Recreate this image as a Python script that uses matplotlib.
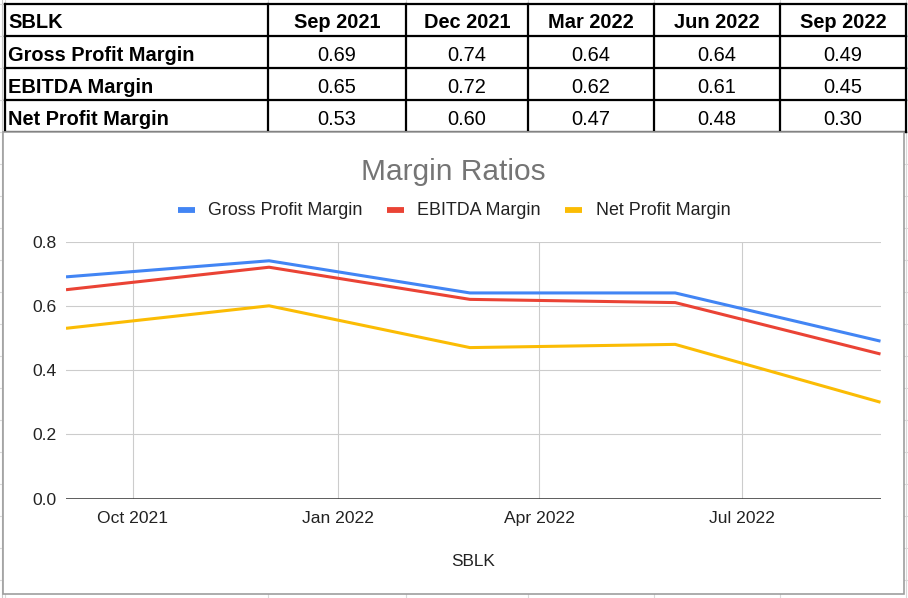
import matplotlib
matplotlib.use("Agg")
import matplotlib.pyplot as plt
import matplotlib.dates as mdates
from matplotlib.patches import Rectangle
import datetime as dt

# ---------------- data ----------------
ticker = "SBLK"
periods = ["Sep 2021", "Dec 2021", "Mar 2022", "Jun 2022", "Sep 2022"]
dates = [dt.date(2021, 9, 1), dt.date(2021, 12, 1), dt.date(2022, 3, 1),
         dt.date(2022, 6, 1), dt.date(2022, 9, 1)]
series_names = ["Gross Profit Margin", "EBITDA Margin", "Net Profit Margin"]
gross = [0.69, 0.74, 0.64, 0.64, 0.49]
ebitda = [0.65, 0.72, 0.62, 0.61, 0.45]
net = [0.53, 0.60, 0.47, 0.48, 0.30]
yticks = [0.0, 0.2, 0.4, 0.6, 0.8]
title = "Margin Ratios"

series_values = [gross, ebitda, net]
colors = ["#4285F4", "#EA4335", "#FBBC04"]

plt.rcParams['font.family'] = ['Liberation Sans', 'DejaVu Sans']

W, H = 908, 598
fig = plt.figure(figsize=(W / 100, H / 100), dpi=100)
bg = fig.add_axes([0, 0, 1, 1])
bg.set_xlim(0, W)
bg.set_ylim(H, 0)
bg.axis("off")

# spreadsheet faint grid
col_edges = [5, 268, 406, 528, 654, 780, 906]
grid_c = "#d9d9d9"
bg.plot([2, 2], [0, H], color="#c8c8c8", lw=0.8, zorder=0)
for x in col_edges:
    bg.plot([x, x], [0, H], color=grid_c, lw=0.8, zorder=0)
for y in range(4, H, 32):
    bg.plot([0, W], [y, y], color=grid_c, lw=0.8, zorder=0)

# ---------------- table ----------------
row_edges = [4, 36, 68, 100, 132]
for y in row_edges:
    bg.plot([col_edges[0], col_edges[-1]], [y, y], color="black", lw=1.6, zorder=2)
for x in col_edges:
    bg.plot([x, x], [row_edges[0], row_edges[-1]], color="black", lw=1.6, zorder=2)

baselines = [28.5, 61, 93, 125]
tfs = 14.4
bg.text(8, baselines[0], ticker, fontsize=tfs, fontweight="bold", va="baseline", ha="left", zorder=3)
for j, p in enumerate(periods):
    cx = (col_edges[j + 1] + col_edges[j + 2]) / 2
    bg.text(cx, baselines[0], p, fontsize=tfs, fontweight="bold", va="baseline", ha="center", zorder=3)
for i, (name, vals) in enumerate(zip(series_names, series_values)):
    bl = baselines[i + 1]
    bg.text(8, bl, name, fontsize=tfs, fontweight="bold", va="baseline", ha="left", zorder=3)
    for j, v in enumerate(vals):
        cx = (col_edges[j + 1] + col_edges[j + 2]) / 2
        bg.text(cx, bl, f"{v:.2f}", fontsize=tfs, va="baseline", ha="center", zorder=3)

# ---------------- chart box ----------------
bg.add_patch(Rectangle((3, 132), 901, 462, facecolor="white", edgecolor="#9e9e9e", lw=1.2, zorder=4))

box_cx = 453.5
bg.text(box_cx, 180, title, fontsize=21.5, color="#757575", ha="center", va="baseline", zorder=5)

# legend
leg_marker_x = [178, 387, 565]
leg_text_x = [208, 417, 596]
for mx, tx, name, c in zip(leg_marker_x, leg_text_x, series_names, colors):
    bg.plot([mx, mx + 17], [209.5, 209.5], color=c, lw=4.2, solid_capstyle="butt", zorder=5)
    bg.text(tx, 215, name, fontsize=12.9, color="#222222", ha="left", va="baseline", zorder=5)

# x label
bg.text(473, 566, ticker, fontsize=12.4, color="#222222", ha="center", va="baseline", zorder=5)

# ---------------- plot ----------------
x0, x1 = 66, 880.5
y0, y1 = 498.7, 241.5
ax = fig.add_axes([x0 / W, (H - y0) / H, (x1 - x0) / W, (y0 - y1) / H])
ax.set_zorder(6)
ax.patch.set_alpha(0)
for s in ax.spines.values():
    s.set_visible(False)

for vals, c in zip(series_values, colors):
    ax.plot(dates, vals, color=c, lw=2.2, solid_joinstyle="round", solid_capstyle="butt", zorder=3)

ax.set_xlim(dates[0], dates[-1])
ax.set_ylim(0, 0.8)
ax.set_yticks(yticks)
ax.set_yticklabels([f"{t:.1f}" for t in yticks])
ax.xaxis.set_major_locator(mdates.MonthLocator(bymonth=[1, 4, 7, 10]))
ax.xaxis.set_major_formatter(mdates.DateFormatter("%b %Y"))
ax.tick_params(axis="both", length=0, labelsize=12.6, labelcolor="#222222")
ax.tick_params(axis="x", pad=8.5)
ax.tick_params(axis="y", pad=6.5)
ax.grid(True, color="#cccccc", lw=0.8, zorder=0)
ax.axhline(0, color="#333333", lw=1.1, zorder=2)

fig.savefig("out.png", dpi=100)
